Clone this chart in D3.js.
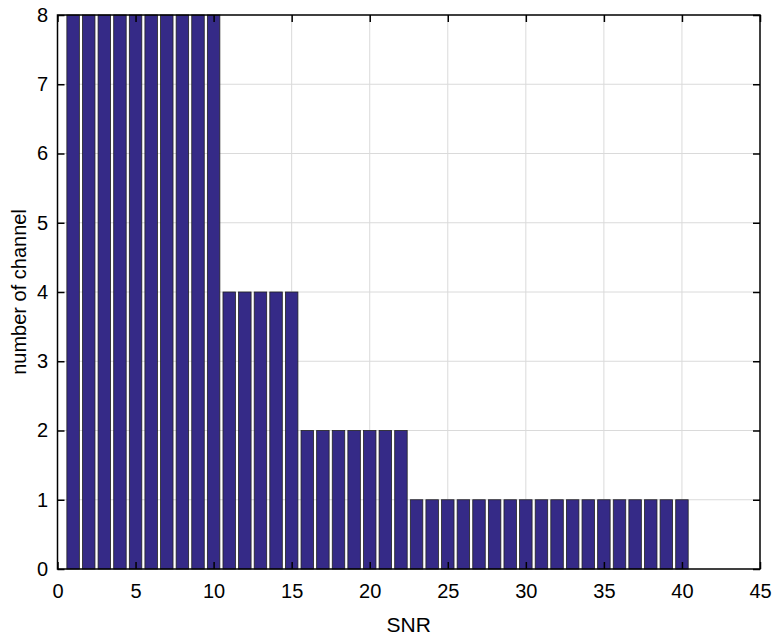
<!DOCTYPE html>
<html>
<head>
<meta charset="utf-8">
<script src="https://cdn.jsdelivr.net/npm/d3@7"></script>
<style>
  body { margin: 0; background: #fff; }
  text { font-family: "Liberation Sans", Arial, sans-serif; }
</style>
</head>
<body>
<svg id="chart"></svg>
<script>
// SNR values (x) and number of channels per SNR
const snr = d3.range(1, 41);
const channels = [
  8, 8, 8, 8, 8, 8, 8, 8, 8, 8,
  4, 4, 4, 4, 4,
  2, 2, 2, 2, 2, 2, 2,
  1, 1, 1, 1, 1, 1, 1, 1, 1, 1, 1, 1, 1, 1, 1, 1, 1, 1
];
const xTicks = [0, 5, 10, 15, 20, 25, 30, 35, 40, 45];
const yTicks = [0, 1, 2, 3, 4, 5, 6, 7, 8];

const data = snr.map((s, i) => ({snr: s, n: channels[i]}));

const W = 774, H = 635;
const margin = {top: 15, right: 14, bottom: 66, left: 57.5};
const width = W - margin.left - margin.right;
const height = H - margin.top - margin.bottom;

const svg = d3.select('#chart').attr('width', W).attr('height', H);
const chart = svg.append('g')
    .attr('transform', `translate(${margin.left},${margin.top})`);

const x = d3.scaleLinear().domain([0, 45]).range([0, width]);
const y = d3.scaleLinear().domain([0, 8]).range([height, 0]);

// Grid lines
chart.append('g')
  .selectAll('line')
  .data(xTicks.slice(1, -1))
  .join('line')
    .attr('x1', d => x(d)).attr('x2', d => x(d))
    .attr('y1', 0).attr('y2', height)
    .attr('stroke', '#dadada').attr('stroke-width', 1);

chart.append('g')
  .selectAll('line')
  .data(yTicks.slice(1, -1))
  .join('line')
    .attr('y1', d => y(d)).attr('y2', d => y(d))
    .attr('x1', 0).attr('x2', width)
    .attr('stroke', '#dadada').attr('stroke-width', 1);

// Bars (MATLAB default width 0.8)
const bw = 0.8;
chart.append('g')
  .selectAll('rect')
  .data(data)
  .join('rect')
    .attr('x', d => x(d.snr - bw / 2))
    .attr('width', x(bw) - x(0))
    .attr('y', d => y(d.n))
    .attr('height', d => y(0) - y(d.n))
    .attr('fill', '#352a87')
    .attr('stroke', '#222')
    .attr('stroke-width', 0.8);

// Axes with inward ticks on all four sides
const tickLen = 7;
const xAxisB = d3.axisBottom(x).tickValues(xTicks).tickSize(-tickLen).tickPadding(15);
const xAxisT = d3.axisTop(x).tickValues(xTicks).tickSize(-tickLen).tickFormat('');
const yAxisL = d3.axisLeft(y).tickValues(yTicks).tickSize(-tickLen).tickPadding(9.5);
const yAxisR = d3.axisRight(y).tickValues(yTicks).tickSize(-tickLen).tickFormat('');

function styleAxis(g) {
  g.select('.domain').remove();
  g.selectAll('.tick line').attr('stroke', '#000').attr('stroke-width', 1.5);
  g.selectAll('.tick text').attr('fill', '#000').style('font-size', '20px');
}

chart.append('g').attr('transform', `translate(0,${height})`).call(xAxisB).call(styleAxis);
chart.append('g').call(xAxisT).call(styleAxis);
chart.append('g').call(yAxisL).call(styleAxis);
chart.append('g').attr('transform', `translate(${width},0)`).call(yAxisR).call(styleAxis);

// Box
chart.append('rect')
    .attr('width', width).attr('height', height)
    .attr('fill', 'none').attr('stroke', '#000').attr('stroke-width', 1.5);

// Axis titles
svg.append('text')
    .attr('x', margin.left + width / 2)
    .attr('y', 632)
    .attr('text-anchor', 'middle')
    .style('font-size', '21px')
    .text('SNR');

svg.append('text')
    .attr('transform', `translate(26,${margin.top + height / 2}) rotate(-90)`)
    .attr('text-anchor', 'middle')
    .style('font-size', '20px')
    .text('number of channel');
</script>
</body>
</html>
